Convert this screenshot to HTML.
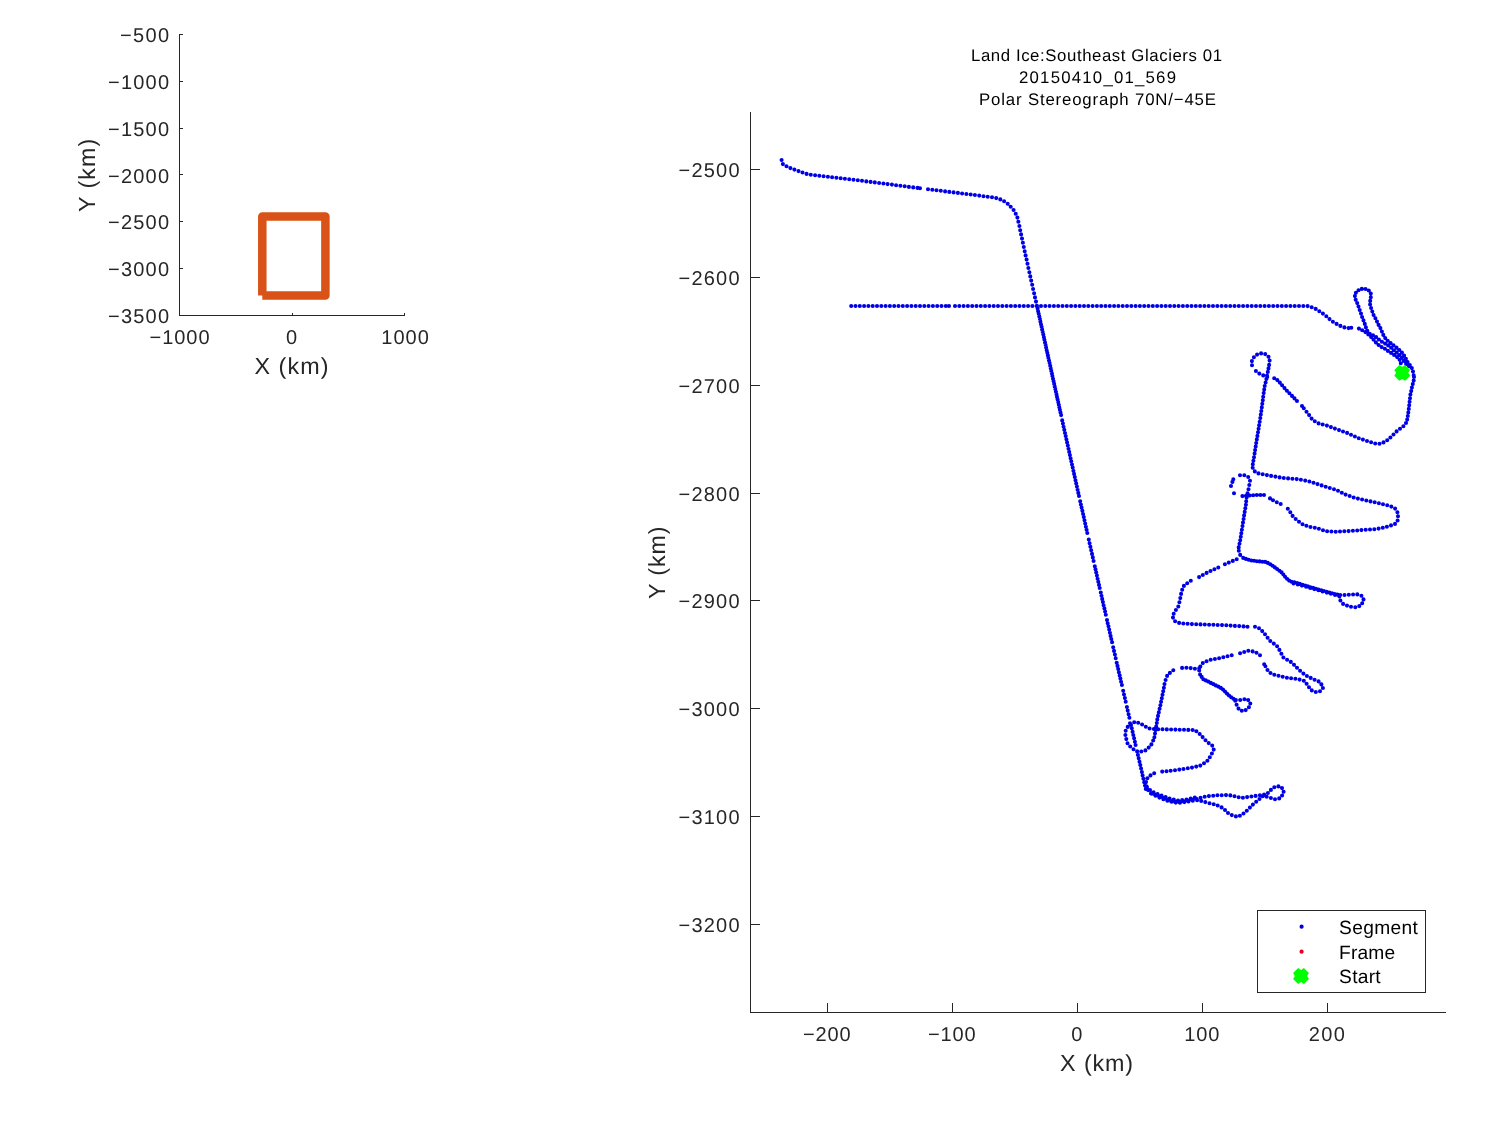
<!DOCTYPE html>
<html><head><meta charset="utf-8"><title>Land Ice:Southeast Glaciers 01</title>
<style>
html,body{margin:0;padding:0;background:#fff;}
body{width:1500px;height:1125px;overflow:hidden;}
svg{display:block;font-family:"Liberation Sans",sans-serif;will-change:transform;-webkit-font-smoothing:antialiased;text-rendering:geometricPrecision;}
.tk{font-size:20px;fill:#262626;}
.lb{font-size:23.3px;fill:#262626;}
.tt{font-size:16.8px;fill:#000;}
.lg{font-size:19.2px;fill:#000;}
.ax{stroke:#262626;stroke-width:1;fill:none;shape-rendering:crispEdges;}
</style></head><body>
<svg width="1500" height="1125" viewBox="0 0 1500 1125">
<rect width="1500" height="1125" fill="#fff"/>

<g class="ax">
<path d="M179.5 34V315.5H405"/>
<path d="M179.5 34.5h3"/>
<path d="M179.5 81.5h3"/>
<path d="M179.5 128.5h3"/>
<path d="M179.5 174.5h3"/>
<path d="M179.5 221.5h3"/>
<path d="M179.5 268.5h3"/>
<path d="M179.5 315.5h3"/>
<path d="M292.5 315.5v-3"/>
<path d="M404.5 315.5v-3"/>
</g>
<text class="tk" x="169" y="42.2" text-anchor="end" textLength="49" lengthAdjust="spacing">−500</text>
<text class="tk" x="169" y="89" text-anchor="end" textLength="61" lengthAdjust="spacing">−1000</text>
<text class="tk" x="169" y="135.8" text-anchor="end" textLength="61" lengthAdjust="spacing">−1500</text>
<text class="tk" x="169" y="182.6" text-anchor="end" textLength="61" lengthAdjust="spacing">−2000</text>
<text class="tk" x="169" y="229.4" text-anchor="end" textLength="61" lengthAdjust="spacing">−2500</text>
<text class="tk" x="169" y="276.2" text-anchor="end" textLength="61" lengthAdjust="spacing">−3000</text>
<text class="tk" x="169" y="323" text-anchor="end" textLength="61" lengthAdjust="spacing">−3500</text>
<text class="tk" x="179.5" y="344" text-anchor="middle" textLength="60" lengthAdjust="spacing">−1000</text>
<text class="tk" x="291.5" y="344" text-anchor="middle">0</text>
<text class="tk" x="405" y="344" text-anchor="middle" textLength="47.5" lengthAdjust="spacing">1000</text>
<text class="lb" x="291.4" y="374" text-anchor="middle" textLength="74" lengthAdjust="spacing">X (km)</text>
<text class="lb" transform="translate(94.6 175.4) rotate(-90)" text-anchor="middle" textLength="73.2" lengthAdjust="spacing">Y (km)</text>
<path d="M262.3 295.6V216.4H325.4V295.5H262.3" fill="none" stroke="#d95319" stroke-width="8.5" stroke-linejoin="round" stroke-linecap="butt"/>
<g class="ax">
<path d="M750.5 112V1012.5H1446"/>
<path d="M750.5 169.5h9"/>
<path d="M750.5 277.5h9"/>
<path d="M750.5 385.5h9"/>
<path d="M750.5 493.5h9"/>
<path d="M750.5 600.5h9"/>
<path d="M750.5 708.5h9"/>
<path d="M750.5 816.5h9"/>
<path d="M750.5 924.5h9"/>
<path d="M827.5 1012.5v-10"/>
<path d="M952.5 1012.5v-10"/>
<path d="M1077.5 1012.5v-10"/>
<path d="M1202.5 1012.5v-10"/>
<path d="M1327.5 1012.5v-10"/>
</g>
<text class="tk" x="739.5" y="177.4" text-anchor="end" textLength="61" lengthAdjust="spacing">−2500</text>
<text class="tk" x="739.5" y="285.15" text-anchor="end" textLength="61" lengthAdjust="spacing">−2600</text>
<text class="tk" x="739.5" y="392.9" text-anchor="end" textLength="61" lengthAdjust="spacing">−2700</text>
<text class="tk" x="739.5" y="500.65" text-anchor="end" textLength="61" lengthAdjust="spacing">−2800</text>
<text class="tk" x="739.5" y="608.4" text-anchor="end" textLength="61" lengthAdjust="spacing">−2900</text>
<text class="tk" x="739.5" y="716.15" text-anchor="end" textLength="61" lengthAdjust="spacing">−3000</text>
<text class="tk" x="739.5" y="823.9" text-anchor="end" textLength="61" lengthAdjust="spacing">−3100</text>
<text class="tk" x="739.5" y="931.65" text-anchor="end" textLength="61" lengthAdjust="spacing">−3200</text>
<text class="tk" x="826.8" y="1041" text-anchor="middle" textLength="47.4" lengthAdjust="spacing">−200</text>
<text class="tk" x="951.8" y="1041" text-anchor="middle" textLength="47.4" lengthAdjust="spacing">−100</text>
<text class="tk" x="1076.8" y="1041" text-anchor="middle">0</text>
<text class="tk" x="1201.8" y="1041" text-anchor="middle" textLength="35" lengthAdjust="spacing">100</text>
<text class="tk" x="1326.8" y="1041" text-anchor="middle" textLength="35.9" lengthAdjust="spacing">200</text>
<text class="lb" x="1096.6" y="1071.1" text-anchor="middle" textLength="73" lengthAdjust="spacing">X (km)</text>
<text class="lb" transform="translate(665 562.8) rotate(-90)" text-anchor="middle" textLength="72.5" lengthAdjust="spacing">Y (km)</text>
<text class="tt" x="1096.5" y="61" text-anchor="middle" textLength="251" lengthAdjust="spacing">Land Ice:Southeast Glaciers 01</text>
<text class="tt" x="1097.5" y="83" text-anchor="middle" textLength="157" lengthAdjust="spacing">20150410_01_569</text>
<text class="tt" x="1097.5" y="105" text-anchor="middle" textLength="237" lengthAdjust="spacing">Polar Stereograph 70N/−45E</text>
<path d="M781.6 160h0M782.9 164.1h0M786.5 166.2h0M790.4 168.1h0M794.4 169.6h0M798.5 171.1h0M802.5 172.5h0M806.6 173.9h0M810.8 174.7h0M815.1 175.2h0M819.3 175.7h0M823.6 176.2h0M827.9 176.7h0M832.1 177.3h0M836.4 177.8h0M840.7 178.3h0M844.9 178.8h0M849.2 179.3h0M853.5 179.8h0M857.8 180.3h0M862 180.8h0M866.3 181.4h0M870.6 181.9h0M874.8 182.4h0M879.1 183h0M883.4 183.5h0M887.6 184.1h0M891.9 184.6h0M896.1 185.2h0M900.4 185.8h0M904.7 186.3h0M908.9 186.9h0M913.2 187.4h0M917.5 187.9h0M920 188.2h0M928 189.2h0M932.3 189.7h0M936.5 190.3h0M940.8 190.8h0M945.1 191.4h0M949.3 191.9h0M953.6 192.4h0M957.9 192.9h0M962.1 193.5h0M966.4 194h0M970.7 194.5h0M974.9 195h0M979.2 195.6h0M983.5 196.2h0M987.7 196.7h0M992 197.3h0M996.2 198.1h0M1000.3 199.4h0M1004.1 201.3h0M1007.7 203.8h0M1010.7 206.7h0M1013.6 210h0M1015.7 213.7h0M1017.4 217.6h0M1018.4 221.8h0M1019.4 226h0M1020.2 230.2h0M1021.1 234.4h0M1022 238.6h0M1022.9 242.8h0M1023.8 247h0M1024.7 251.2h0M1025.6 255.4h0M1026.6 259.6h0M1027.5 263.8h0M1028.4 268h0M1029.4 272.2h0M1030.3 276.4h0M1031.2 280.6h0M1032.2 284.8h0M1033.1 289h0M1034.1 293.2h0M1035 297.4h0M1036 301.6h0M1036.9 305.8h0M1037 306h0M1037.6 308.6h0M1038.1 311.2h0M1038.7 313.8h0M1039.3 316.4h0M1039.9 319h0M1040.4 321.6h0M1041 324.2h0M1041.6 326.8h0M1042.1 329.4h0M1042.7 332h0M1043.3 334.6h0M1043.9 337.2h0M1044.4 339.8h0M1045 342.4h0M1045.6 345h0M1046.1 347.6h0M1046.7 350.2h0M1047.3 352.8h0M1047.9 355.4h0M1048.4 358h0M1049 360.6h0M1049.6 363.1h0M1050.2 365.7h0M1050.7 368.3h0M1051.3 370.9h0M1051.9 373.5h0M1052.4 376.1h0M1053 378.7h0M1053.6 381.3h0M1054.2 383.9h0M1054.7 386.5h0M1055.3 389.1h0M1055.9 391.7h0M1056.5 394.3h0M1057 396.9h0M1057.6 399.5h0M1058.2 402.1h0M1058.8 404.7h0M1059.3 407.3h0M1059.9 409.9h0M1060.5 412.5h0M1061.1 415.1h0M1062.2 420.4h0M1062.9 423.5h0M1063.6 426.7h0M1064.3 429.8h0M1065 433h0M1065.7 436.1h0M1066.4 439.3h0M1067.1 442.4h0M1067.8 445.6h0M1068.5 448.8h0M1069.2 451.9h0M1069.9 455.1h0M1070.6 458.2h0M1071.3 461.3h0M1072 464.5h0M1072.7 467.6h0M1073.4 470.8h0M1074.1 473.9h0M1074.8 477.1h0M1075.5 480.2h0M1076.2 483.4h0M1076.9 486.6h0M1077.6 489.7h0M1078.3 492.9h0M1079 496h0M1080.2 501.3h0M1080.9 504.5h0M1081.6 507.6h0M1082.4 510.8h0M1083.1 514h0M1083.8 517.1h0M1084.5 520.3h0M1085.2 523.5h0M1085.9 526.7h0M1086.6 529.8h0M1087.3 533h0M1088.8 539.6h0M1089.6 543.2h0M1090.4 546.7h0M1091.2 550.3h0M1092 553.9h0M1092.8 557.4h0M1093.6 561h0M1094.8 566.2h0M1095.5 569.3h0M1096.2 572.4h0M1096.9 575.5h0M1097.6 578.7h0M1098.3 581.8h0M1099 584.9h0M1099.7 588h0M1100.8 592.6h0M1101.5 595.8h0M1102.2 598.9h0M1102.9 602.1h0M1103.6 605.2h0M1104.4 608.4h0M1105.1 611.5h0M1105.8 614.7h0M1107 620h0M1107.7 623.2h0M1108.5 626.3h0M1109.2 629.5h0M1109.9 632.7h0M1110.6 635.9h0M1111.3 639h0M1112.1 642.2h0M1113.2 647.2h0M1114 650.9h0M1114.9 654.5h0M1115.7 658.2h0M1116.7 662.7h0M1117.5 665.9h0M1118.2 669.1h0M1118.9 672.3h0M1119.7 675.4h0M1120.4 678.6h0M1121.1 681.8h0M1121.9 685h0M1123.2 690.8h0M1124 694.5h0M1124.9 698.1h0M1125.7 701.8h0M1126.9 707h0M1127.7 710.6h0M1128.6 714.2h0M1129.4 717.8h0M1131 725h0M1131.8 728.3h0M1132.6 731.7h0M1133.3 735h0M1134.1 738.3h0M1134.9 741.7h0M1135.6 745h0M1137.1 751.5h0M1137.9 754.9h0M1138.7 758.3h0M1139.5 761.7h0M1140.3 765.1h0M1141.1 768.5h0M1141.9 772h0M1142.6 775.4h0M1143.4 778.8h0M1144.2 782.2h0M1145 785.6h0M1145.8 789h0M851.2 306h0M855.5 306h0M859.8 306h0M864.1 306h0M868.4 306h0M872.7 306h0M877 306h0M881.3 306h0M885.6 306h0M889.9 306h0M894.2 306h0M898.5 306h0M902.8 306h0M907.1 306h0M911.4 306h0M915.7 306h0M920 306h0M924.3 306h0M928.6 306h0M932.9 306h0M937.2 306h0M941.5 306h0M945.8 306h0M949 306h0M955 306h0M959.3 306h0M963.6 306h0M967.9 306h0M972.2 306h0M976.5 306h0M980.8 306h0M985.1 306h0M989.4 306h0M993.7 306h0M998 306h0M1002.3 306h0M1006.6 306h0M1010.9 306h0M1015.2 306h0M1019.5 306h0M1023.8 306h0M1028.1 306h0M1032.4 306h0M1036.7 306h0M1041 306h0M1045.3 306h0M1049.6 306h0M1053.9 306h0M1058.2 306h0M1062.5 306h0M1066.8 306h0M1071.1 306h0M1075.4 306h0M1079.7 306h0M1084 306h0M1088.3 306h0M1092.6 306h0M1096.9 306h0M1101.2 306h0M1105.5 306h0M1109.8 306h0M1114.1 306h0M1118.4 306h0M1122.7 306h0M1127 306h0M1131.3 306h0M1135.6 306h0M1139.9 306h0M1144.2 306h0M1148.5 306h0M1152.8 306h0M1157.1 306h0M1161.4 306h0M1165.7 306h0M1170 306h0M1174.3 306h0M1178.6 306h0M1182.9 306h0M1187.2 306h0M1191.5 306h0M1195.8 306h0M1200.1 306h0M1204.4 306h0M1208.7 306h0M1213 306h0M1217.3 306h0M1221.6 306h0M1225.9 306h0M1230.2 306h0M1234.5 306h0M1238.8 306h0M1243.1 306h0M1247.4 306h0M1251.7 306h0M1256 306h0M1260.3 306h0M1264.6 306h0M1268.9 306h0M1273.2 306h0M1277.5 306h0M1281.8 306h0M1286.1 306h0M1290.4 306h0M1294.7 306h0M1299 306h0M1303.3 306h0M1307.6 306.1h0M1311.7 307.2h0M1315.7 308.9h0M1319.3 311.2h0M1322.9 313.6h0M1326.3 316.2h0M1329.5 319.1h0M1332.9 321.7h0M1336.6 323.9h0M1340.4 325.9h0M1344.4 327.4h0M1348.6 328.1h0M1351.3 327.7h0M1358.9 328.6h0M1362.2 330.3h0M1365.4 332.1h0M1368.3 334.4h0M1371.1 336.9h0M1373.5 339.6h0M1375.9 342.4h0M1378.6 345h0M1381.6 347.1h0M1384.9 348.8h0M1387.9 350.9h0M1391.1 352.9h0M1394.1 354.9h0M1397.1 357.1h0M1399.6 359.8h0M1400.8 363.2h0M1409 366.2h0M1406.1 363.9h0M1403.9 360.9h0M1401.9 357.8h0M1399.5 355.1h0M1396.7 352.6h0M1393.8 350.3h0M1391.1 347.8h0M1388.2 345.4h0M1385.1 343.6h0M1381.9 341.7h0M1378.9 339.5h0M1376.1 337.1h0M1373 335.2h0M1369.7 333.7h0M1367.3 330.8h0M1365.9 327.4h0M1364.8 323.9h0M1363.5 320.4h0M1362.1 317h0M1361 313.5h0M1359.7 310h0M1358.5 306.5h0M1357.2 303.1h0M1355.7 299.7h0M1354.9 296.1h0M1355.9 292.7h0M1358.5 290.3h0M1361.8 288.9h0M1365.5 289h0M1368.8 290.5h0M1370.8 293.6h0M1370.8 297.3h0M1370.2 300.9h0M1370.1 304.5h0M1371.1 308h0M1372.3 311.5h0M1373.6 315h0M1375.4 318.2h0M1377 321.6h0M1378.6 324.9h0M1380.4 328.1h0M1381.9 331.5h0M1383.3 334.9h0M1385.2 338.1h0M1387.7 340.8h0M1390.6 343.1h0M1393.5 345.4h0M1396.5 347.6h0M1399.3 350h0M1401.9 352.6h0M1404.1 355.5h0M1405.9 358.8h0M1407.6 362h0M1409.8 365.1h0M1411.8 368.1h0M1413 371.6h0M1413.7 375.2h0M1414 377h0M1413.7 380.6h0M1412.8 384.1h0M1411.9 387.6h0M1411.2 391.1h0M1410.4 394.6h0M1410 398.2h0M1409.6 401.8h0M1409.2 405.3h0M1408.8 408.9h0M1408.3 412.5h0M1407.8 416h0M1407.2 419.6h0M1406 423h0M1403.4 426.2h0M1400 428.8h0M1396.6 431.4h0M1393.5 434.5h0M1390.4 437.5h0M1387.2 440.3h0M1383.5 442.4h0M1379.5 443.7h0M1375.2 443.5h0M1371.1 442.3h0M1367 441h0M1362.9 439.6h0M1358.8 438.3h0M1354.9 436.5h0M1351 434.7h0M1347.1 432.9h0M1343 431.5h0M1339 430.1h0M1334.9 428.6h0M1330.9 427.1h0M1326.9 425.6h0M1322.7 424.5h0M1318.6 423.4h0M1314.8 421.3h0M1311.6 418.6h0M1309.1 415.1h0M1306.5 411.7h0M1303.8 408.3h0M1302 406h0M1297 401h0M1294.5 398.4h0M1292 395.9h0M1289.4 393.3h0M1286.9 390.8h0M1284.5 388.1h0M1282.1 385.3h0M1279.8 382.6h0M1277.3 380.1h0M1274.2 378.2h0M1267.2 377h0M1263.2 375.4h0M1259.3 373.6h0M1255.9 371h0M1252 365.3h0M1251.9 361.1h0M1253.9 357.3h0M1257.1 354.6h0M1261.1 353.4h0M1265.2 354.1h0M1268.5 356.7h0M1269.6 360.6h0M1269.1 364.9h0M1268.5 368.4h0M1267.8 371.9h0M1267 375.5h0M1266.4 379h0M1265.6 382.5h0M1264.7 386h0M1264.2 389.6h0M1263.7 393.1h0M1263.2 396.7h0M1262.8 400.3h0M1262.3 403.8h0M1261.8 407.4h0M1261.3 411h0M1260.8 414.5h0M1260.3 418.1h0M1259.7 421.7h0M1259.1 425.2h0M1258.6 428.8h0M1258 432.3h0M1257.4 435.9h0M1256.8 439.4h0M1256.2 443h0M1255.7 446.5h0M1255.1 450.1h0M1254.6 453.6h0M1254 457.2h0M1253.4 460.7h0M1252.8 464.3h0M1252.7 467.8h0M1254.8 471.4h0M1258.5 473.4h0M1262.7 474.2h0M1266.9 475.1h0M1271.1 475.9h0M1275.4 476.6h0M1279.6 477.4h0M1283.8 478h0M1288.1 478.4h0M1292.4 478.7h0M1296.7 479.1h0M1300.9 479.7h0M1305.2 480.6h0M1309.4 481.5h0M1313.5 482.7h0M1317.5 484.1h0M1321.6 485.4h0M1325.7 486.7h0M1329.8 488h0M1334 489.2h0M1338 490.7h0M1341.8 492.7h0M1345.6 494.6h0M1349.7 496h0M1353.7 497.5h0M1357.9 498.6h0M1362.1 499.5h0M1366.3 500.5h0M1370.5 501.4h0M1374.7 502.3h0M1378.9 503.2h0M1383 504.2h0M1387.2 505.3h0M1391.3 506.6h0M1395.1 508.6h0M1397.4 512.2h0M1398 516.3h0M1397.6 520.5h0M1395 523.9h0M1391 525.4h0M1386.9 526.7h0M1382.8 527.7h0M1378.6 528.6h0M1374.3 529.2h0M1370 529.5h0M1365.7 529.8h0M1361.4 530.1h0M1357.2 530.5h0M1352.9 530.8h0M1348.6 531.1h0M1344.3 531.3h0M1340 531.5h0M1335.7 531.7h0M1331.4 531.5h0M1327.1 531.3h0M1323 530.2h0M1318.9 528.8h0M1314.8 527.7h0M1310.5 527h0M1306.4 525.8h0M1302.5 524.2h0M1299 521.7h0M1295.7 519h0M1292.6 515.9h0M1290.3 512.3h0M1287.8 508.8h0M1280.7 504h0M1276.8 502.3h0M1273 500.2h0M1270 498.4h0M1264 495h0M1260.4 495h0M1256.8 495h0M1253.2 495.3h0M1249.6 495.5h0M1246 495.8h0M1242.4 496.1h0M1234 493.3h0M1231 486h0M1232.4 481.9h0M1233.3 479.3h0M1240 475.3h0M1244.3 475.3h0M1248.2 477h0M1250 480.8h0M1249.3 485h0M1248.5 489.3h0M1247.5 493.4h0M1246.6 497.6h0M1246.2 501.2h0M1245.9 504.8h0M1245.3 508.3h0M1244.7 511.9h0M1244.1 515.4h0M1243.6 519h0M1243 522.5h0M1242.5 526.1h0M1241.9 529.7h0M1241.3 533.2h0M1240.8 536.8h0M1240.2 540.3h0M1239.5 543.8h0M1238.7 547.4h0M1238.8 550.8h0M1240.2 554.9h0M1243.2 557.9h0M1245.9 558.9h0M1248.6 559.8h0M1251.3 560.5h0M1254.1 560.8h0M1256.9 561.2h0M1259.6 561.4h0M1262.4 561.7h0M1265.2 561.9h0M1267.8 562.9h0M1270.3 564.2h0M1272.6 565.7h0M1274.9 567.4h0M1277.1 569h0M1279.4 570.7h0M1281.6 572.4h0M1283.4 574.5h0M1285.1 576.8h0M1287 578.8h0M1289.1 580.6h0M1291.6 581.7h0M1294.4 582.4h0M1297.1 583.1h0M1299.8 583.9h0M1302.4 584.7h0M1305.1 585.6h0M1307.8 586.4h0M1310.4 587.2h0M1313.1 587.9h0M1315.8 588.7h0M1318.5 589.5h0M1321.2 590.2h0M1323.9 591h0M1326.6 591.8h0M1329.3 592.5h0M1332 593.3h0M1334.7 594h0M1337.4 594.6h0M1340.2 595h0M1344.5 595h0M1348.8 594.8h0M1353.1 594.5h0M1357.3 594.4h0M1361.4 595.7h0M1363.5 599.4h0M1362.2 603.2h0M1359.3 606.1h0M1355.3 607.3h0M1351 606.8h0M1347 605.6h0M1343.1 603.9h0M1340.4 600.5h0M1339.4 596.4h0M1339.2 596h0M1335 594.9h0M1330.9 593.8h0M1326.8 592.6h0M1322.6 591.4h0M1318.5 590.2h0M1314.3 589.1h0M1310.2 588h0M1306.1 586.8h0M1301.9 585.6h0M1297.8 584.4h0M1293.6 583.4h0M1236.7 559.2h0M1232.8 560.9h0M1228.8 562.6h0M1224.9 564.3h0M1218.3 567.5h0M1214.4 569.3h0M1210.5 571h0M1206.6 572.9h0M1202.8 575h0M1199.1 577.1h0M1190.8 580.8h0M1187.2 583.2h0M1183.9 585.9h0M1182.2 589.8h0M1181.1 593.9h0M1180.3 598.1h0M1179.4 602.3h0M1178.3 606.5h0M1175.9 610h0M1173.7 613.7h0M1173 617.6h0M1175.1 621.3h0M1179.1 622.9h0M1183.3 623.5h0M1187.6 623.8h0M1191.9 624.1h0M1196.2 624.3h0M1200.5 624.4h0M1204.8 624.5h0M1209.1 624.7h0M1213.4 624.8h0M1217.7 625h0M1222 625.1h0M1226.3 625.3h0M1230.6 625.6h0M1234.9 625.9h0M1239.2 626.1h0M1243.5 626.4h0M1247.5 626.7h0M1255 626.7h0M1259 628.3h0M1262.2 631.1h0M1265 634.3h0M1267.6 637.7h0M1270.3 641h0M1273.8 643.6h0M1277.1 646.3h0M1279.4 649.9h0M1281.4 653.7h0M1283.4 657.5h0M1287.1 659.7h0M1290.8 661.9h0M1294 664.8h0M1297 667.8h0M1300.1 670.8h0M1303.4 673.6h0M1306.9 676h0M1310.7 677.9h0M1314.6 679.8h0M1318.6 681.4h0M1321.4 684.4h0M1322.9 688h0M1320 691.2h0M1315.8 692h0M1311.8 690.4h0M1309 687.3h0M1306.6 683.8h0M1303.8 680.7h0M1299.6 679.6h0M1295.4 678.8h0M1291.1 678.3h0M1286.9 677.7h0M1282.7 676.8h0M1278.5 675.8h0M1274.3 674.8h0M1270.5 673h0M1267.5 670h0M1265.4 666.3h0M1264.2 664.2h0M1260 655.3h0M1256.5 652.8h0M1252.6 651.4h0M1248.3 650.8h0M1244.2 652h0M1240.1 653.3h0M1231.7 655.3h0M1227.5 656.3h0M1223.3 657.2h0M1219.1 658.2h0M1214.9 659h0M1210.7 659.8h0M1206.6 661.2h0M1202.8 663.1h0M1200.3 666.6h0M1199.2 670.5h0M1200.1 674.6h0M1201.7 676.9h0M1203.3 679.2h0M1205.8 680.4h0M1208.3 681.6h0M1210.8 682.9h0M1213.3 684.1h0M1215.8 685.4h0M1218.3 686.6h0M1220.8 687.9h0M1223 689.6h0M1225 691.6h0M1226.9 693.6h0M1229 695.5h0M1231.2 697.2h0M1233.5 698.8h0M1235.9 700h0M1240.2 700h0M1244.4 699.3h0M1248.2 700.1h0M1250.3 703.5h0M1248.9 707.3h0M1245.7 710.1h0M1241.8 710.8h0M1238.5 708.6h0M1236.6 704.7h0M1235.2 700.7h0M1199.2 668.3h0M1194.9 668.7h0M1190.7 668.1h0M1186.4 667.8h0M1182.1 667.9h0M1173.3 670.3h0M1169.9 672.9h0M1167.1 675.9h0M1165.6 680h0M1164.5 684.1h0M1163.9 687.7h0M1163.2 691.2h0M1162.5 694.8h0M1161.8 698.3h0M1161.1 701.8h0M1160.4 705.3h0M1159.6 708.8h0M1158.8 712.4h0M1158 715.9h0M1157.3 719.4h0M1156.8 723h0M1156.2 726.5h0M1155.6 730.1h0M1155 733.6h0M1154.4 737.2h0M1153.2 740.5h0M1151.4 744.4h0M1148.7 747.6h0M1145.4 750.4h0M1141.3 751.5h0M1137.2 751.4h0M1133.5 749.3h0M1130.2 746.5h0M1127.5 743.2h0M1126.3 739.1h0M1125.4 735h0M1125.7 730.7h0M1127.7 726.9h0M1130 723.3h0M1134.2 722.2h0M1138.2 722.7h0M1142.1 724.5h0M1145.8 726.7h0M1149.6 728.5h0M1153.9 729h0M1158.2 729.2h0M1162.5 729.3h0M1166.8 729.4h0M1171.1 729.5h0M1175.4 729.6h0M1179.7 729.7h0M1184 729.8h0M1188.3 729.9h0M1192.6 730h0M1196.4 731.2h0M1199.7 734h0M1202.6 737.1h0M1205.5 740.3h0M1208.7 743.1h0M1212.2 745.6h0M1213.7 749.6h0M1211.9 753.5h0M1209.8 757.2h0M1207.4 760.8h0M1204 763.3h0M1200.3 765.6h0M1196.2 766.6h0M1192 767.6h0M1187.8 768.3h0M1183.5 769h0M1179.3 769.6h0M1175 770.2h0M1170.7 770.7h0M1166.5 771.2h0M1162.2 771.6h0M1154.2 773.3h0M1150.5 775.4h0M1147.4 778.2h0M1146 782.1h0M1146.5 786.3h0M1148.2 790.1h0M1151 793.4h0M1155 794.8h0M1159 796.3h0M1163 797.9h0M1167 799.6h0M1171 801h0M1175.2 801.9h0M1179.5 802.3h0M1183.7 801.6h0M1187.9 800.9h0M1192.1 799.8h0M1196.3 798.8h0M1200.5 797.8h0M1204.7 796.8h0M1208.9 796.1h0M1213.2 795.7h0M1217.4 795.3h0M1221.7 795.2h0M1226 795.1h0M1230.3 795.4h0M1234.5 796.3h0M1238.7 797.2h0M1242.9 797.8h0M1247.1 797.1h0M1251.4 796.5h0M1255.6 795.9h0M1259.9 795.3h0M1264.1 794.6h0M1267.9 793h0M1270.9 789.9h0M1274.3 787.3h0M1278.4 786.4h0M1282 788.1h0M1283.6 791.8h0M1282.1 795.5h0M1279.2 798.4h0M1275 799.2h0M1270.9 798h0M1266.7 796.8h0M1262.7 796.3h0M1259.5 799h0M1256.2 801.8h0M1252.9 804.6h0M1249.9 807.6h0M1246.8 810.7h0M1243.5 813.5h0M1239.9 815.7h0M1235.9 816.4h0M1231.8 815.1h0M1228 813h0M1225 810h0M1221.6 807.4h0M1217.7 805.5h0M1213.7 804.2h0M1209.5 803.2h0M1205.3 802.1h0M1201.2 800.9h0M1197.1 800.2h0M1192.8 800.8h0M1188.5 801.4h0M1184.3 802.1h0M1180 802.7h0M1175.8 802.6h0M1171.6 801.7h0M1167.4 800.8h0M1163.4 799.2h0M1159.4 797.6h0M1155.5 795.8h0M1151.7 793.8h0M1147 787h0M1150 790h0M1153.6 792.4h0M1157.5 794h0M1161.5 795.6h0M1165.6 797.1h0M1169.6 798.6h0M1173.8 799.6h0M1178 800.5h0M1182.2 800.1h0M1186.5 799.5h0M1190.7 798.6h0M1194.8 797.5h0" fill="none" stroke="#0000e6" stroke-width="4.1" stroke-linecap="round"/>
<polygon points="1402.2,366.7 1405.1,364.9 1410.1,369.9 1408.3,372.8 1410.1,375.7 1405.1,380.7 1402.2,378.9 1399.3,380.7 1394.3,375.7 1396.1,372.8 1394.3,369.9 1399.3,364.9" fill="#00ff00"/>
<rect x="1257.5" y="910.5" width="168" height="82" fill="#fff" stroke="#262626" stroke-width="1" shape-rendering="crispEdges"/>
<circle cx="1301.6" cy="926.7" r="2.1" fill="#0000e0"/>
<circle cx="1301.6" cy="951.7" r="2.1" fill="#e0002a"/>
<polygon points="1301,969.9 1303.9,968.1 1308.9,973.1 1307.1,976 1308.9,978.9 1303.9,983.9 1301,982.1 1298.1,983.9 1293.1,978.9 1294.9,976 1293.1,973.1 1298.1,968.1" fill="#00ff00"/>
<text class="lg" x="1339.1" y="933.7" textLength="78.8" lengthAdjust="spacing">Segment</text>
<text class="lg" x="1339.1" y="958.7" textLength="56" lengthAdjust="spacing">Frame</text>
<text class="lg" x="1339.1" y="983.2" textLength="41.6" lengthAdjust="spacing">Start</text>
</svg></body></html>
